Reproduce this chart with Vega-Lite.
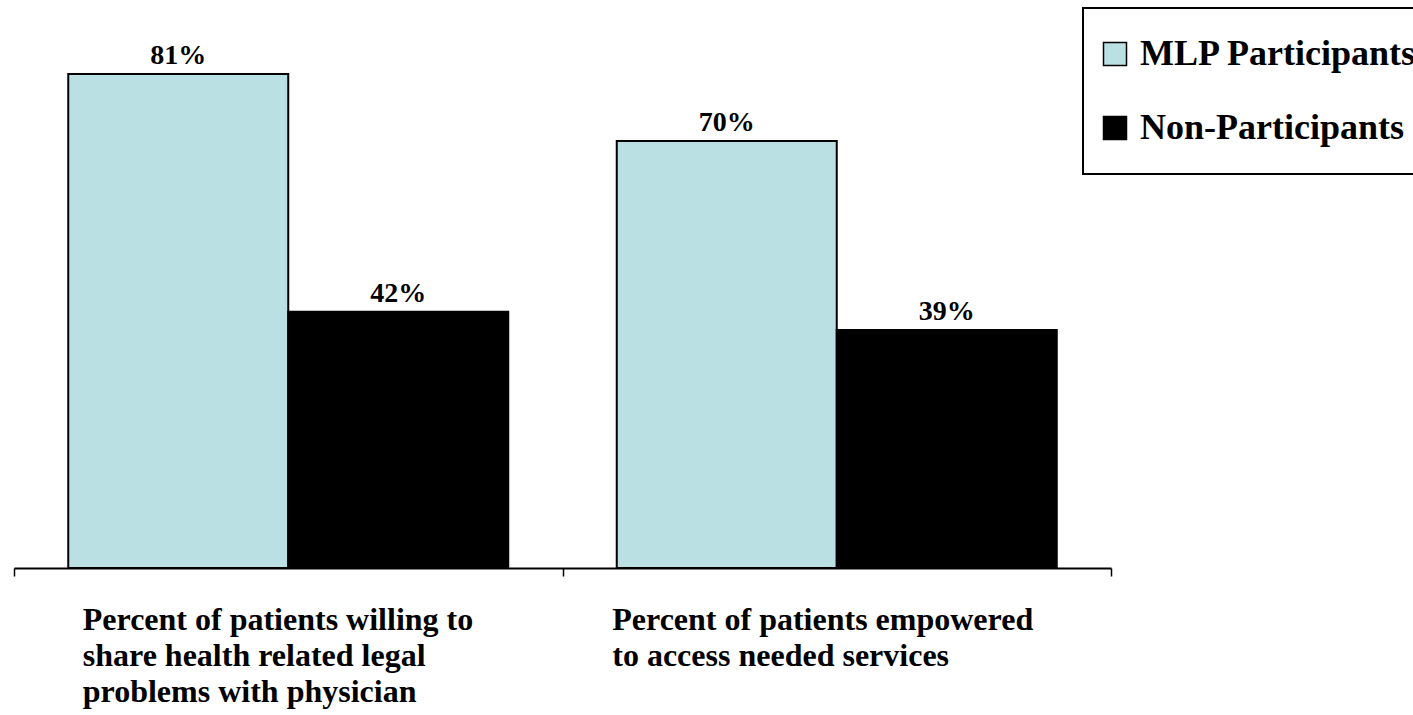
{
  "$schema": "https://vega.github.io/schema/vega-lite/v6.json",
  "width": 1097,
  "height": 549,
  "autosize": {"type": "none"},
  "padding": {"left": 14, "top": 19, "right": 302, "bottom": 147},
  "background": "white",
  "config": {
    "view": {"stroke": null},
    "font": "Liberation Serif",
    "legend": {"strokeWidth": 2}
  },
  "data": {
    "values": [
      {"measure": "A", "group": "MLP Participants", "value": 81},
      {"measure": "A", "group": "Non-Participants", "value": 42},
      {"measure": "B", "group": "MLP Participants", "value": 70},
      {"measure": "B", "group": "Non-Participants", "value": 39}
    ]
  },
  "transform": [{"calculate": "datum.value + '%'", "as": "label"}],
  "encoding": {
    "x": {
      "field": "measure",
      "type": "nominal",
      "sort": ["A", "B"],
      "scale": {"paddingInner": 0, "paddingOuter": 0},
      "axis": {
        "title": null,
        "domainColor": "black",
        "domainWidth": 2,
        "tickBand": "extent",
        "tickColor": "black",
        "tickWidth": 1.5,
        "tickSize": 8,
        "labelAngle": 0,
        "labelAlign": "left",
        "labelBaseline": "top",
        "labelPadding": 28,
        "labelFont": "Liberation Serif",
        "labelFontWeight": "bold",
        "labelFontSize": 32,
        "labelLineHeight": 36,
        "labelColor": "black",
        "labelLimit": 0,
        "labelOffset": {"expr": "datum.value == 'A' ? -206 : -225"},
        "labelExpr": "datum.value == 'A' ? ['Percent of patients willing to', 'share health related legal', 'problems with physician'] : datum.value == 'B' ? ['Percent of patients empowered', 'to access needed services'] : ''"
      }
    },
    "xOffset": {
      "field": "group",
      "type": "nominal",
      "sort": ["MLP Participants", "Non-Participants"],
      "scale": {"paddingInner": 0, "paddingOuter": 0.2466}
    },
    "y": {
      "field": "value",
      "type": "quantitative",
      "scale": {"domain": [0, 90]},
      "axis": null
    }
  },
  "layer": [
    {
      "mark": {"type": "bar", "stroke": "black", "strokeWidth": 2},
      "encoding": {
        "color": {
          "field": "group",
          "type": "nominal",
          "scale": {"domain": ["MLP Participants", "Non-Participants"], "range": ["#BAE0E3", "#000000"]},
          "legend": {
            "title": null,
            "orient": "none",
            "legendX": 1069,
            "legendY": -11,
            "strokeColor": "black",
            "padding": 14,
            "rowPadding": 10,
            "clipHeight": 64,
            "symbolType": "square",
            "symbolSize": 529,
            "symbolStrokeColor": "black",
            "symbolStrokeWidth": 1.5,
            "labelFont": "Liberation Serif",
            "labelFontWeight": "bold",
            "labelFontSize": 36,
            "labelColor": "black",
            "labelOffset": 7,
            "labelLimit": 0
          }
        }
      }
    },
    {
      "mark": {"type": "text", "font": "Liberation Serif", "fontWeight": "bold", "fontSize": 28, "color": "black", "baseline": "alphabetic", "dy": -10},
      "encoding": {"text": {"field": "label"}}
    }
  ]
}
